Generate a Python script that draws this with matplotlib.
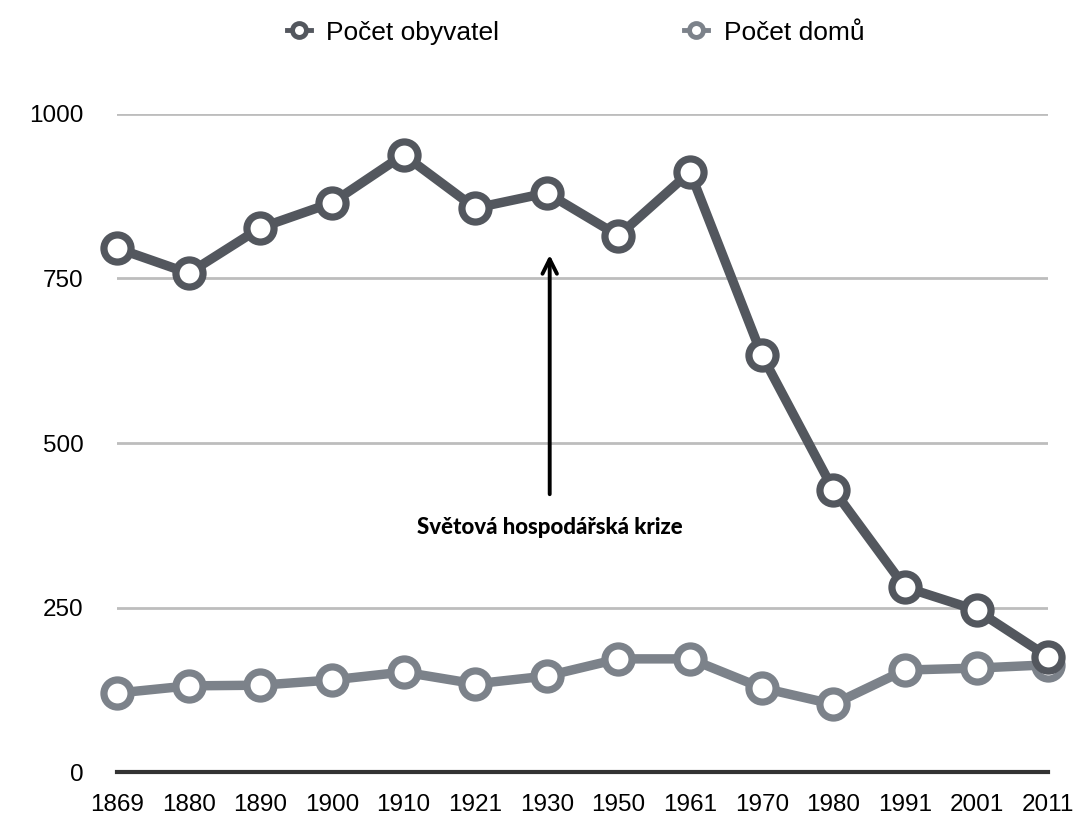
import matplotlib.pyplot as plt
from matplotlib.lines import Line2D

roky = ['1869', '1880', '1890', '1900', '1910', '1921', '1930',
        '1950', '1961', '1970', '1980', '1991', '2001', '2011']
obyvatel = [796, 758, 827, 865, 938, 857, 880, 815, 912, 634, 429, 281, 246, 175]
domy = [120, 131, 132, 140, 152, 134, 146, 172, 172, 128, 103, 155, 158, 163]

c_obyv = '#53575e'
c_domy = '#7c828a'

plt.rcParams['font.family'] = ['Liberation Sans', 'DejaVu Sans']

fig = plt.figure(figsize=(10.84, 8.17), dpi=100)
ax = fig.add_axes([0.108, 0.055, 0.859, 0.8055])

x = list(range(len(roky)))

ax.plot(x, domy, color=c_domy, lw=6.8, marker='o', ms=19.5, mfc='white',
        mec=c_domy, mew=5.2, clip_on=False, zorder=3)
ax.plot(x, obyvatel, color=c_obyv, lw=6.8, marker='o', ms=19.5, mfc='white',
        mec=c_obyv, mew=5.2, clip_on=False, zorder=4)

ax.set_xlim(0, len(roky) - 1)
ax.set_ylim(0, 1000)
ax.set_yticks([0, 250, 500, 750, 1000])
ax.set_xticks(x)
ax.set_xticklabels(roky)
ax.tick_params(axis='both', length=0, labelsize=17.5, colors='black')
ax.tick_params(axis='y', pad=24)
ax.tick_params(axis='x', pad=16)
ax.grid(axis='y', color='#bdbdbd', lw=2)
ax.set_axisbelow(True)
for s in ['top', 'right', 'left']:
    ax.spines[s].set_visible(False)
ax.spines['bottom'].set_color('#333333')
ax.spines['bottom'].set_linewidth(3)

# anotace
ax.annotate('', xy=(6.04, 790), xytext=(6.04, 418),
            arrowprops=dict(arrowstyle='->', color='black', lw=2.8,
                            mutation_scale=26))
ax.text(6.04, 372, 'Světová hospodářská krize', ha='center', va='center',
        fontsize=16, fontweight='black', family=['Lato', 'DejaVu Sans'])

handles = [
    Line2D([], [], color=c_obyv, lw=3.5, marker='o', ms=10, mfc='white',
           mec=c_obyv, mew=3.5),
    Line2D([], [], color=c_domy, lw=3.5, marker='o', ms=10, mfc='white',
           mec=c_domy, mew=3.5),
]
fig.legend(handles, ['Počet obyvatel', 'Počet domů'], loc='center',
           bbox_to_anchor=(0.531, 0.96), ncol=2, frameon=False,
           fontsize=19, handlelength=0.9, columnspacing=7.0, handletextpad=0.6)

fig.savefig('out.png', dpi=100)
